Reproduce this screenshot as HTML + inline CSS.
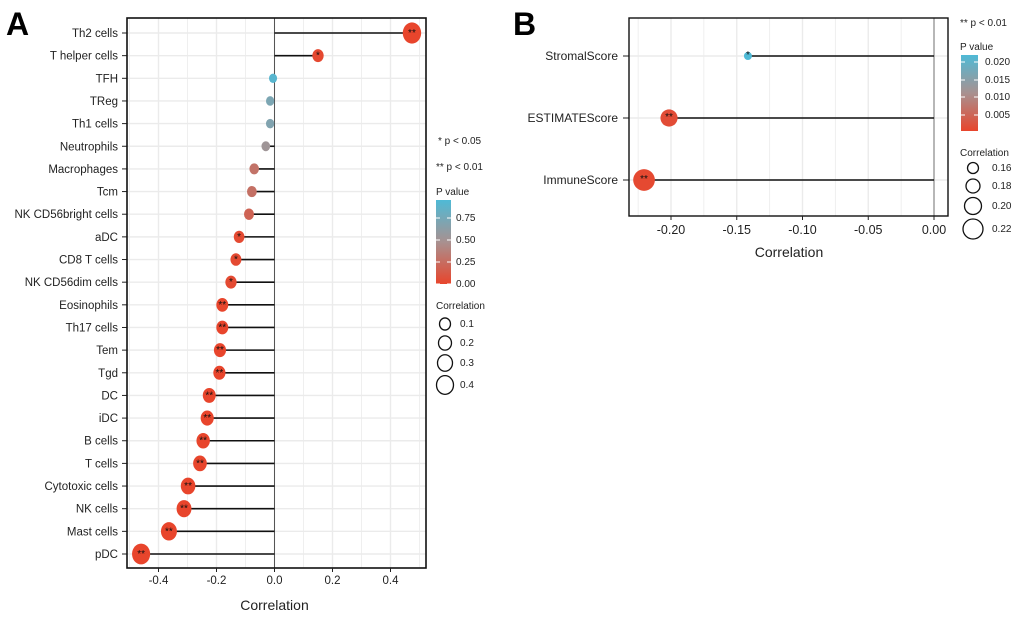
<!DOCTYPE html>
<html><head><meta charset="utf-8"><style>
body{margin:0;background:#fff;}
svg{display:block;font-family:"Liberation Sans",Arial,sans-serif;}
</style></head><body>
<svg id="chart" width="1020" height="617" viewBox="0 0 1020 617">
<defs>
<linearGradient id="gA" x1="0" y1="1" x2="0" y2="0">
<stop offset="0" stop-color="#E8452C"/><stop offset="0.5" stop-color="#A89190"/><stop offset="1" stop-color="#4FBAD6"/>
</linearGradient>
</defs>
<text x="6" y="35" font-size="32" font-weight="bold">A</text>
<text x="513" y="35" font-size="32" font-weight="bold">B</text>
<g id="pa"></g>
<g id="pb"></g>
</svg>
<script>
const catsA=["Th2 cells","T helper cells","TFH","TReg","Th1 cells","Neutrophils","Macrophages","Tcm","NK CD56bright cells","aDC","CD8 T cells","NK CD56dim cells","Eosinophils","Th17 cells","Tem","Tgd","DC","iDC","B cells","T cells","Cytotoxic cells","NK cells","Mast cells","pDC"];
const corrA=[0.474,0.15,-0.005,-0.015,-0.015,-0.03,-0.07,-0.078,-0.088,-0.122,-0.133,-0.15,-0.18,-0.18,-0.188,-0.19,-0.225,-0.232,-0.246,-0.257,-0.298,-0.312,-0.364,-0.46];
const pA=[0.001,0.02,0.95,0.75,0.72,0.55,0.3,0.28,0.2,0.03,0.03,0.03,0.002,0.002,0.002,0.002,0.001,0.001,0.001,0.001,0.001,0.001,0.001,0.001];
const ticksA=[-0.4,-0.2,0.0,0.2,0.4];
const catsB=["StromalScore","ESTIMATEScore","ImmuneScore"];
const corrB=[-0.1415,-0.2015,-0.2205];
const pB=[0.021,0.001,0.0005];
const ticksB=[-0.20,-0.15,-0.10,-0.05,0.00];
const NS="http://www.w3.org/2000/svg";
function mk(p,t,a,txt){const e=document.createElementNS(NS,t);for(const k in a)e.setAttribute(k,a[k]);if(txt!==undefined)e.textContent=txt;p.appendChild(e);return e;}
function lerp(a,b,t){return a.map((v,i)=>Math.round(v+(b[i]-v)*t));}
function col(t){t=Math.max(0,Math.min(1,t));const r=[232,69,44],g=[168,145,144],b=[79,186,214];const c=t<0.5?lerp(r,g,t/0.5):lerp(g,b,(t-0.5)/0.5);return `rgb(${c})`;}
function stars(p){return p<0.01?"**":p<0.05?"*":"";}

// Panel A
(function(){
const g=document.getElementById('pa');
const L=127,R=426,T=18,B=568;
const x=v=>274.5+v*290;
const y=i=>33+i*(554-33)/23;
for(let v=-0.5;v<=0.5001;v+=0.1){const X=x(v);if(X>L&&X<R){const e=mk(g,'line',{x1:X,x2:X,y1:T,y2:B,stroke:'#ebebeb','stroke-width':Math.abs(Math.round(v*10))%2==0?1.4:0.8});}}
catsA.forEach((c,i)=>{const e=mk(g,'line',{x1:L,x2:R,y1:y(i),y2:y(i),stroke:'#ebebeb','stroke-width':1.4});});
mk(g,'line',{x1:x(0),x2:x(0),y1:T,y2:B,stroke:'#555','stroke-width':1});
catsA.forEach((c,i)=>{
 const Y=y(i);
 const s=mk(g,'line',{x1:x(0),x2:x(corrA[i]),y1:Y,y2:Y,stroke:'#111','stroke-width':1.6});
 
 const r=4+11*Math.abs(corrA[i]);
 const d=mk(g,'ellipse',{cx:x(corrA[i]),cy:Y,rx:r,ry:r*1.15,fill:col(pA[i])});
 
 const st=stars(pA[i]);if(st){const t=mk(g,'text',{x:x(corrA[i]),y:Y+3,'font-size':10,'text-anchor':'middle',fill:'#111'},st);}
 const lb=mk(g,'text',{x:118,y:Y+4,'font-size':11.5,'text-anchor':'end',fill:'#222'},c);
 mk(g,'line',{x1:122,x2:127,y1:Y,y2:Y,stroke:'#222','stroke-width':1});
});
mk(g,'rect',{x:L,y:T,width:R-L,height:B-T,fill:'none',stroke:'#111','stroke-width':1.6});
ticksA.forEach(v=>{mk(g,'line',{x1:x(v),x2:x(v),y1:B,y2:B+4,stroke:'#222'});const t=mk(g,'text',{x:x(v),y:B+16,'font-size':11.5,'text-anchor':'middle',fill:'#222'},v.toFixed(1));});
const xt=mk(g,'text',{x:x(0),y:610,'font-size':14,'text-anchor':'middle',fill:'#222'},'Correlation');
mk(g,'text',{x:438,y:144,'font-size':10,fill:'#222'},'* p < 0.05');
mk(g,'text',{x:436,y:170,'font-size':10,fill:'#222'},'** p < 0.01');
mk(g,'text',{x:436,y:195,'font-size':10,fill:'#222'},'P value');
const cb=mk(g,'rect',{x:436,y:200,width:15,height:84,fill:'url(#gA)'});
[[0.75,218],[0.50,240],[0.25,262],[0.00,284]].forEach(a=>{mk(g,'text',{x:456,y:a[1]+3,'font-size':10,fill:'#222'},a[0].toFixed(2));mk(g,'line',{x1:436,x2:440,y1:a[1],y2:a[1],stroke:'#fff'});mk(g,'line',{x1:447,x2:451,y1:a[1],y2:a[1],stroke:'#fff'});});
mk(g,'text',{x:436,y:309,'font-size':10,fill:'#222'},'Correlation');
[[0.1,324,5.5],[0.2,343,6.5],[0.3,363,7.5],[0.4,385,8.5]].forEach(a=>{const c=mk(g,'ellipse',{cx:445,cy:a[1],rx:a[2],ry:a[2]*1.1,fill:'none',stroke:'#111','stroke-width':1.3});mk(g,'text',{x:460,y:a[1]+3,'font-size':10,fill:'#222'},String(a[0]));});
})();

// Panel B
(function(){
const g=document.getElementById('pb');
const L=629,R=948,T=18,B=216;
const x=v=>934+v*1315;
const y=i=>56+i*62;
for(let k=-9;k<=0;k++){const v=k*0.025;const X=x(v);if(X>L&&X<R){mk(g,'line',{x1:X,x2:X,y1:T,y2:B,stroke:'#ebebeb','stroke-width':k%2==0?1.4:0.8});}}
catsB.forEach((c,i)=>mk(g,'line',{x1:L,x2:R,y1:y(i),y2:y(i),stroke:'#ebebeb','stroke-width':1.4}));
mk(g,'line',{x1:x(0),x2:x(0),y1:T,y2:B,stroke:'#777','stroke-width':1});
catsB.forEach((c,i)=>{
 const Y=y(i);
 const s=mk(g,'line',{x1:x(0),x2:x(corrB[i]),y1:Y,y2:Y,stroke:'#111','stroke-width':1.5});
 
 const r=Math.max(4,(Math.abs(corrB[i])-0.13)*120);
 const d=mk(g,'circle',{cx:x(corrB[i]),cy:Y,r:r,fill:col(pB[i]/0.021)});
 
 const st=stars(pB[i]);if(st){const t=mk(g,'text',{x:x(corrB[i]),y:Y+2,'font-size':10,'text-anchor':'middle',fill:'#111'},st);}
 const lb=mk(g,'text',{x:618,y:Y+4,'font-size':12,'text-anchor':'end',fill:'#222'},c);
 mk(g,'line',{x1:623,x2:629,y1:Y,y2:Y,stroke:'#222'});
});
mk(g,'rect',{x:L,y:T,width:R-L,height:B-T,fill:'none',stroke:'#111','stroke-width':1.4});
ticksB.forEach(v=>{mk(g,'line',{x1:x(v),x2:x(v),y1:B,y2:B+4,stroke:'#222'});const t=mk(g,'text',{x:x(v),y:B+18,'font-size':12.5,'text-anchor':'middle',fill:'#222'},v.toFixed(2));});
const xt=mk(g,'text',{x:789,y:257,'font-size':14,'text-anchor':'middle',fill:'#222'},'Correlation');
mk(g,'text',{x:960,y:26,'font-size':10,fill:'#222'},'** p < 0.01');
mk(g,'text',{x:960,y:50,'font-size':10,fill:'#222'},'P value');
const cb=mk(g,'rect',{x:961,y:55,width:17,height:76,fill:'url(#gA)'});
[['0.020',62],['0.015',80],['0.010',97],['0.005',115]].forEach(a=>{mk(g,'text',{x:985,y:a[1]+3,'font-size':10,fill:'#222'},a[0]);mk(g,'line',{x1:961,x2:965,y1:a[1],y2:a[1],stroke:'#fff'});mk(g,'line',{x1:974,x2:978,y1:a[1],y2:a[1],stroke:'#fff'});});
mk(g,'text',{x:960,y:156,'font-size':10,fill:'#222'},'Correlation');
[['0.16',168,5.5],['0.18',186,7],['0.20',206,8.5],['0.22',229,10]].forEach(a=>{const c=mk(g,'circle',{cx:973,cy:a[1],r:a[2],fill:'none',stroke:'#111','stroke-width':1.3});mk(g,'text',{x:992,y:a[1]+3,'font-size':10,fill:'#222'},a[0]);});
})();
</script>
</body></html>
